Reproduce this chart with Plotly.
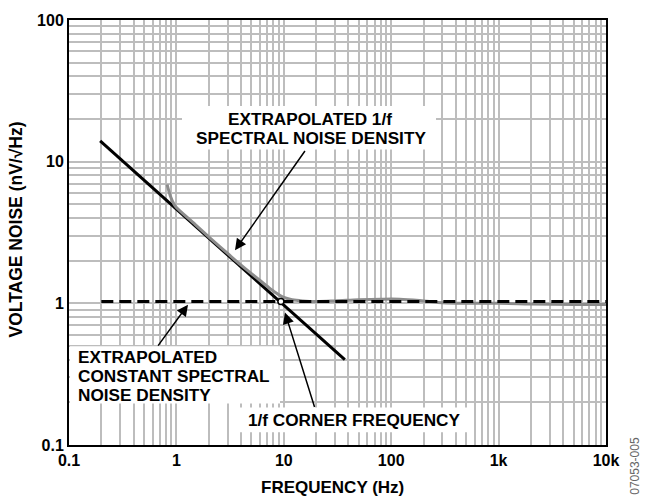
import numpy as np
import plotly.graph_objects as go

# measured noise curve
meas_freq = [0.82, 0.88, 0.95, 1.0, 1.5, 2, 3, 4, 5, 6, 7, 8, 10, 12, 15, 20, 30, 50, 80, 120, 200, 300, 500, 1000, 2000, 5000, 10000]
meas_noise = [6.9, 5.7, 5.0, 4.75, 3.6, 2.95, 2.25, 1.86, 1.62, 1.45, 1.32, 1.22, 1.1, 1.06, 1.04, 1.03, 1.04, 1.06, 1.07, 1.07, 1.04, 1.01, 1.0, 1.0, 0.99, 0.98, 0.98]

# extrapolated 1/f line
onef_freq = [0.195, 37]
onef_noise = [14, 0.40]

# extrapolated white noise level
flat_freq = [0.2, 10000]
flat_noise = [1.03, 1.03]

# corner point
corner_freq = [9.4]
corner_noise = [1.03]

x_ticks = [0.1, 1, 10, 100, 1000, 10000]
x_labels = ["0.1", "1", "10", "100", "1k", "10k"]
y_ticks = [0.1, 1, 10, 100]
y_labels = ["0.1", "1", "10", "100"]

FONT = "Liberation Sans, Arial, sans-serif"

def minor_vals(lo, hi):
    v = []
    for d in range(lo, hi):
        for m in range(2, 10):
            v.append(m * 10.0 ** d)
    return v

fig = go.Figure()
fig.add_trace(go.Scatter(x=onef_freq, y=onef_noise, mode="lines",
                         line=dict(color="black", width=3), hoverinfo="skip"))
fig.add_trace(go.Scatter(x=meas_freq, y=meas_noise, mode="lines", line_shape="spline",
                         line=dict(color="#8c8c8c", width=3), hoverinfo="skip"))
fig.add_trace(go.Scatter(x=flat_freq, y=flat_noise, mode="lines",
                         line=dict(color="black", width=3.2, dash="12px,6px"), hoverinfo="skip"))
fig.add_trace(go.Scatter(x=corner_freq, y=corner_noise, mode="markers",
                         marker=dict(color="white", size=6, line=dict(color="black", width=1.5)),
                         hoverinfo="skip"))

grid = "#bdbdbd"
axis_common = dict(type="log", showline=True, linecolor="black", linewidth=2, mirror=True,
                   showgrid=True, gridcolor=grid, gridwidth=1.5, ticks="",
                   tickfont=dict(family=FONT, size=16, color="black", weight="bold"),
                   zeroline=False)

fig.update_xaxes(range=[-1, 4], tickvals=x_ticks, ticktext=x_labels,
                 minor=dict(tickvals=minor_vals(-1, 4), showgrid=True, gridcolor=grid, gridwidth=1.5),
                 **axis_common)
fig.update_yaxes(range=[-1, 2], tickvals=y_ticks, ticktext=y_labels,
                 minor=dict(tickvals=minor_vals(-1, 2), showgrid=True, gridcolor=grid, gridwidth=1.5),
                 **axis_common)

afont = dict(family=FONT, size=17.2, color="black", weight="bold")

XR, YR = "x domain", "y domain"

def px2x(px):
    return (px - 69) / 537.0

def px2y(py):
    return (445 - py) / 430.0

def label(text, x, y, xanchor="center", font=afont, angle=0):
    return dict(text=text, x=px2x(x), y=px2y(y), xref=XR, yref=YR, showarrow=False,
                xanchor=xanchor, yanchor="middle", font=font, textangle=angle)

def arrow(x0, y0, x1, y1):
    return dict(text="", x=px2x(x1), y=px2y(y1), ax=px2x(x0), ay=px2y(y0),
                xref=XR, yref=YR, axref=XR, ayref=YR,
                showarrow=True, arrowhead=2, arrowsize=1.5, arrowwidth=1.5, arrowcolor="black")

def box(x0, y0, x1, y1):
    return dict(type="rect", xref=XR, yref=YR, x0=px2x(x0), x1=px2x(x1), y0=px2y(y1), y1=px2y(y0),
                fillcolor="white", line=dict(width=0), layer="above")

shapes = [box(182, 102, 436, 146), box(70, 345, 280, 403), box(238, 407, 467, 432)]

annotations = [
    label("EXTRAPOLATED 1/f", 310, 115),
    label("SPECTRAL NOISE DENSITY", 311, 134),
    label("EXTRAPOLATED", 76, 356),
    label("CONSTANT SPECTRAL", 76, 375),
    label("NOISE DENSITY", 76, 394),
    label("1/f CORNER FREQUENCY", 354, 419.5),
    arrow(306, 146, 235, 248),
    arrow(157, 346, 188, 303),
    arrow(315, 408, 285, 311),
    label("FREQUENCY (Hz)", 332, 488, font=dict(family=FONT, size=17, color="black", weight="bold")),
    label("VOLTAGE NOISE (nV/√Hz)", 16, 227, font=dict(family=FONT, size=17.5, color="black", weight="bold"), angle=-90),
    label("07053-005", 635, 466, font=dict(family=FONT, size=12, color="#666666"), angle=-90),
]
for a in annotations[2:5]:
    a["xanchor"] = "left"

fig.update_layout(
    width=646, height=498,
    margin=dict(l=69, r=40, t=15, b=53),
    paper_bgcolor="white", plot_bgcolor="white",
    showlegend=False,
    shapes=shapes,
    annotations=annotations,
)

fig.write_html("out.html")
